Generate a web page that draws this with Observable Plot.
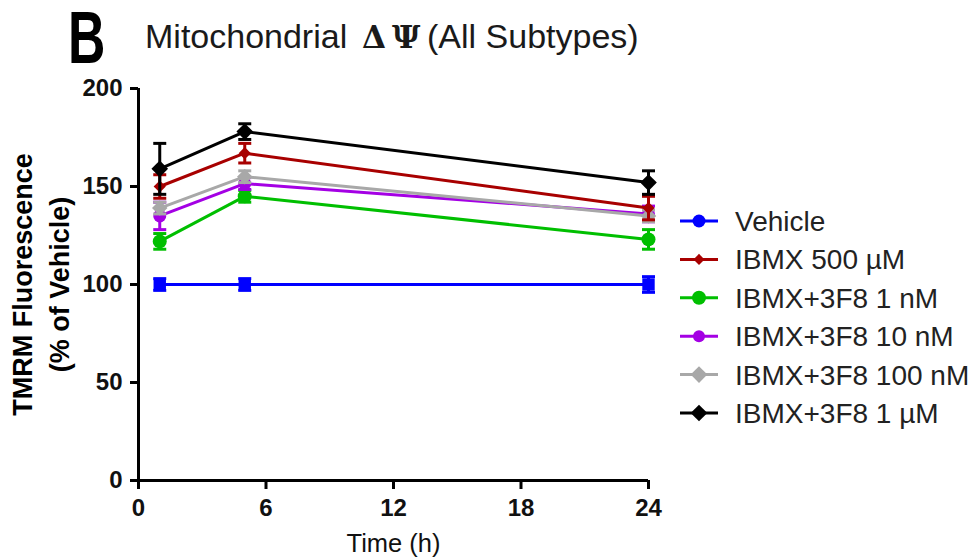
<!DOCTYPE html>
<html>
<head>
<meta charset="utf-8">
<script src="https://cdn.jsdelivr.net/npm/d3@7"></script>
<script src="https://cdn.jsdelivr.net/npm/@observablehq/plot@0.6"></script>
<style>
  html, body { margin: 0; padding: 0; background: #ffffff; }
  #chart { width: 969px; height: 558px; }
</style>
</head>
<body>
<div id="chart"></div>
<script>
// ---- Data ----
const times = [1, 5, 24];
const seriesNames = ["Vehicle", "IBMX 500 µM", "IBMX+3F8 1 nM", "IBMX+3F8 10 nM", "IBMX+3F8 100 nM", "IBMX+3F8 1 µM"];
const vehicleMean = [100, 100, 100];
const vehicleSem  = [3, 3, 4];
const ibmxMean    = [150, 167, 139];
const ibmxSem     = [6, 5, 6];
const nM1Mean     = [122, 145, 123];
const nM1Sem      = [4, 3, 5];
const nM10Mean    = [135, 151.5, 136];
const nM10Sem     = [7, 3, 4];
const nM100Mean   = [139, 155, 135];
const nM100Sem    = [3, 3, 3];
const uM1Mean     = [159, 178, 152];
const uM1Sem      = [13, 4, 6];
const xTicks = [0, 6, 12, 18, 24];
const yTicks = [0, 50, 100, 150, 200];

const means = [vehicleMean, ibmxMean, nM1Mean, nM10Mean, nM100Mean, uM1Mean];
const sems  = [vehicleSem, ibmxSem, nM1Sem, nM10Sem, nM100Sem, uM1Sem];

// ---- Styles ----
const colors = ["#0000ff", "#a80000", "#00bf00", "#a400e4", "#a8a8a8", "#000000"];
const plotSymbols = ["square", "diamond2", "circle", "circle", "diamond2", "diamond2"];
const plotR = [7, 5.5, 7, 6.5, 7, 7.5];
const legendSymbols = [d3.symbolCircle, d3.symbolDiamond2, d3.symbolCircle, d3.symbolCircle, d3.symbolDiamond2, d3.symbolDiamond2];
const legendR = [6.5, 5, 7, 6, 7.5, 7.5];
const drawOrder = [0, 2, 3, 4, 1, 5];

const capSymbol = {
  draw(context, size) {
    const w = Math.sqrt(size / Math.PI);
    context.moveTo(-w, 0);
    context.lineTo(w, 0);
  }
};

const rowsFor = (i) => times.map((t, j) => ({series: seriesNames[i], t, v: means[i][j], e: sems[i][j]}));

const seriesMarks = drawOrder.flatMap((i) => {
  const rows = rowsFor(i);
  const c = colors[i];
  return [
    Plot.line(rows, {x: "t", y: "v", stroke: c, strokeWidth: 3}),
    Plot.ruleX(rows, {x: "t", y1: (d) => d.v - d.e, y2: (d) => d.v + d.e, stroke: c, strokeWidth: 3}),
    Plot.dot(rows, {x: "t", y: (d) => d.v + d.e, symbol: capSymbol, r: 6.5, stroke: c, strokeWidth: 3, fill: "none"}),
    Plot.dot(rows, {x: "t", y: (d) => d.v - d.e, symbol: capSymbol, r: 6.5, stroke: c, strokeWidth: 3, fill: "none"}),
    Plot.dot(rows, {x: "t", y: "v", symbol: plotSymbols[i], r: plotR[i], fill: c, stroke: "none"})
  ];
});

const chart = Plot.plot({
  width: 969,
  height: 558,
  marginLeft: 138,
  marginRight: 321,
  marginTop: 88,
  marginBottom: 78,
  style: {fontFamily: "'Liberation Sans', Arial, sans-serif", background: "#ffffff", color: "#000000"},
  x: {domain: [0, 24]},
  y: {domain: [0, 200]},
  marks: [
    Plot.axisX({ticks: xTicks, tickSize: 9, tickPadding: 9, strokeWidth: 3, fontSize: 24, fontWeight: "bold", label: null}),
    Plot.axisY({ticks: yTicks, tickSize: 8, tickPadding: 8, strokeWidth: 3, fontSize: 24, fontWeight: "bold", label: null}),
    Plot.ruleX([0], {strokeWidth: 3}),
    Plot.ruleY([0], {strokeWidth: 3}),
    ...seriesMarks,
    Plot.text(["Time (h)"], {frameAnchor: "bottom", lineAnchor: "middle", textAnchor: "middle", dy: 63, fontSize: 25.5, fontWeight: "normal", fill: "#111"}),
    Plot.text(["TMRM Fluorescence"], {frameAnchor: "left", rotate: -90, textAnchor: "middle", lineAnchor: "middle", dx: -115, fontSize: 27, fontWeight: "bold"}),
    Plot.text(["(% of Vehicle)"], {frameAnchor: "left", rotate: -90, textAnchor: "middle", lineAnchor: "middle", dx: -78, fontSize: 27, fontWeight: "bold"})
  ]
});

document.getElementById("chart").append(chart);

const svg = d3.select(chart);
svg.selectAll('g[aria-label="x-axis tick label"], g[aria-label="y-axis tick label"]')
  .attr("font-weight", "bold").attr("font-size", 24).attr("fill", "#111");

// Panel letter and title
svg.append("text")
  .attr("transform", "translate(68,63) scale(0.7,1)")
  .attr("text-anchor", "start")
  .attr("font-family", "'Liberation Sans', Arial, sans-serif")
  .attr("font-weight", "bold")
  .attr("font-size", 74)
  .attr("fill", "#000")
  .text("B");

const title = svg.append("text")
  .attr("y", 48)
  .attr("text-anchor", "start")
  .attr("font-family", "'Liberation Sans', Arial, sans-serif")
  .attr("font-size", 34)
  .attr("fill", "#1a1a1a");
title.append("tspan").attr("x", 145).text("Mitochondrial");
title.append("tspan").attr("x", 362).attr("font-family", "'DejaVu Serif', 'Liberation Serif', serif").attr("font-size", 31).attr("font-weight", "bold").text("Δ");
title.append("tspan").attr("x", 392).attr("font-family", "'DejaVu Serif', 'Liberation Serif', serif").attr("font-size", 31).attr("font-weight", "bold").text("Ψ");
title.append("tspan").attr("x", 427).attr("font-size", 34).attr("font-family", "'Liberation Sans', Arial, sans-serif").attr("font-weight", "normal").text("(All Subtypes)");

// Legend
const lg = svg.append("g").attr("aria-label", "legend").attr("text-anchor", "start");
seriesNames.forEach((name, i) => {
  const y = 221 + i * 38.4;
  lg.append("line").attr("x1", 680).attr("x2", 718).attr("y1", y).attr("y2", y)
    .attr("stroke", colors[i]).attr("stroke-width", 3);
  lg.append("path")
    .attr("d", d3.symbol(legendSymbols[i], Math.PI * legendR[i] * legendR[i])())
    .attr("transform", `translate(699,${y})`)
    .attr("fill", colors[i]);
  lg.append("text").attr("x", 735).attr("y", y + 10)
    .attr("text-anchor", "start")
    .attr("font-family", "'Liberation Sans', Arial, sans-serif")
    .attr("font-size", 28)
    .attr("fill", "#222")
    .text(name);
});
</script>
</body>
</html>
